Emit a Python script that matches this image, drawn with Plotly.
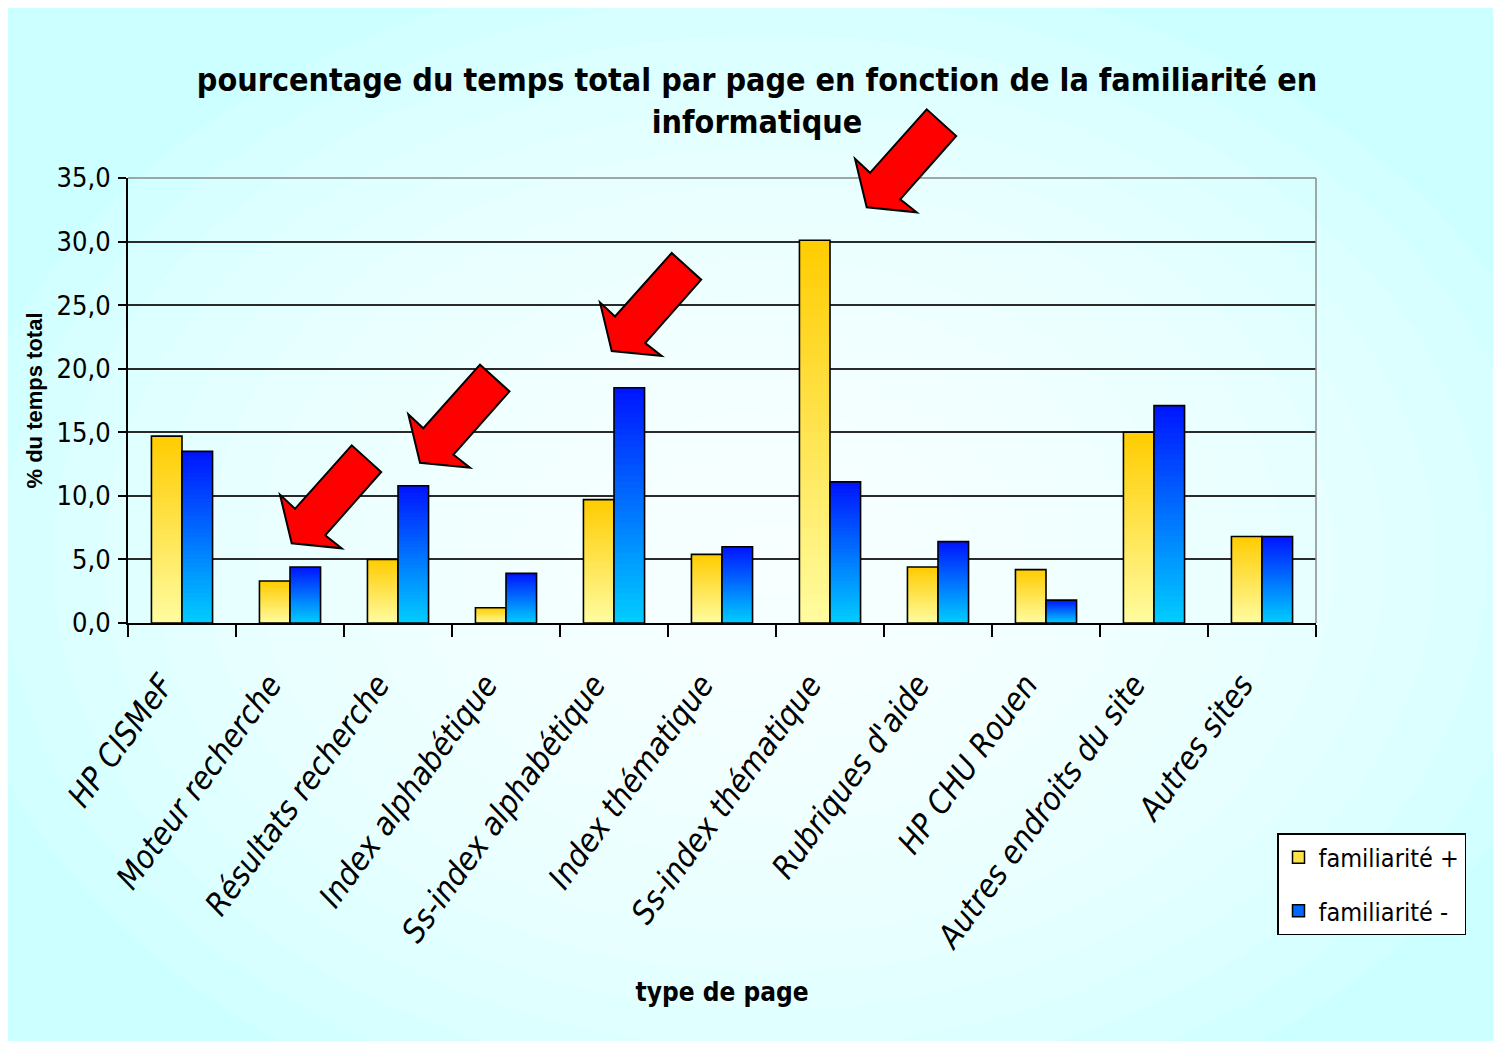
import plotly.graph_objects as go

# ---------------- data ----------------
categories = ["HP CISMeF", "Moteur recherche", "Résultats recherche", "Index alphabétique",
              "Ss-index alphabétique", "Index thématique", "Ss-index thématique",
              "Rubriques d'aide", "HP CHU Rouen", "Autres endroits du site", "Autres sites"]
fam_plus = [14.7, 3.3, 5.0, 1.2, 9.7, 5.4, 30.1, 4.4, 4.2, 15.0, 6.8]
fam_minus = [13.5, 4.4, 10.8, 3.9, 18.5, 6.0, 11.1, 6.4, 1.8, 17.1, 6.8]
series_names = ["familiarité +", "familiarité -"]
y_tick_values = [0, 5, 10, 15, 20, 25, 30, 35]

# ---------------- styling ----------------
OFF = 8                                   # page body margin of the html page
W, H = 1501 - OFF, 1041 - OFF
L, R, T, B = 128 - OFF, 1316 - OFF, 178 - OFF, 623 - OFF   # plot area (figure pixels)
COND = "DejaVu Sans Condensed, Liberation Sans Narrow, Arial Narrow, DejaVu Sans"
REG = "Liberation Sans, Arial"

grad = {
    "a": ((255, 252, 160), (255, 204, 0)),   # bottom -> top
    "b": ((0, 206, 255), (0, 20, 255)),
}
N_SEG = 40


def px2paper(px, py):
    """reference-image pixels -> paper coordinates"""
    px, py = px - OFF, py - OFF
    return (px - L) / (R - L), (B - py) / (B - T)


def mix(c0, c1, t):
    return "rgb(%d,%d,%d)" % tuple(round(a + (b - a) * t) for a, b in zip(c0, c1))


fig = go.Figure()

for key, name, vals in (("a", series_names[0], fam_plus), ("b", series_names[1], fam_minus)):
    c0, c1 = grad[key]
    for k in range(N_SEG):
        t = (k + 0.5) / N_SEG
        # each layer spans from its base to the bar top; upper layers cover lower ones
        fig.add_trace(go.Bar(
            x=categories, y=[v * (N_SEG - k) / N_SEG for v in vals],
            base=[v * k / N_SEG for v in vals],
            offsetgroup=key, legendgroup=key, showlegend=False, hoverinfo="skip",
            marker=dict(color=mix(c0, c1, t), line=dict(width=0)),
        ))
    # outline
    fig.add_trace(go.Bar(
        x=categories, y=vals, offsetgroup=key, legendgroup=key, showlegend=False, name=name,
        marker=dict(color="rgba(0,0,0,0)", line=dict(color="black", width=1.6)),
        hovertemplate="%{x}<br>" + name + " : %{y:.1f}<extra></extra>",
    ))
    # legend entry
    fig.add_trace(go.Bar(
        x=[categories[0]], y=[None], offsetgroup=key, legendgroup=key, name=name,
        marker=dict(color=mix(c0, c1, 0.55), line=dict(color="black", width=1.5)),
        hoverinfo="skip",
    ))

shapes = []
# radial gradient approximated with concentric ellipses
cx, cy = 770, 560
rx, ry = 820, 600
n_ell = 16
for i in range(n_ell):
    s = 1 - i / n_ell
    ax0, ay0 = px2paper(cx - rx * s, cy - ry * s)
    ax1, ay1 = px2paper(cx + rx * s, cy + ry * s)
    shapes.append(dict(type="circle", xref="paper", yref="paper", x0=ax0, y0=ay1, x1=ax1, y1=ay0,
                       fillcolor="white", opacity=0.13, line=dict(width=0), layer="below"))

# plot-area top and right borders
shapes.append(dict(type="line", xref="paper", yref="paper", x0=0, y0=1, x1=1, y1=1,
                   line=dict(color="#8a8a8a", width=1.5)))
shapes.append(dict(type="line", xref="paper", yref="paper", x0=1, y0=0, x1=1, y1=1,
                   line=dict(color="#8a8a8a", width=1.5)))

# red block arrows (callouts)
arrow_template = [(0, 0), (-11.7, -48.5), (3.3, -34.5), (60, -98), (89.5, -71.3), (33.5, -8), (50, 5)]
arrow_tips = [(291.7, 543.3), (420, 462.7), (611.7, 351), (866.7, 207.3)]
for tx, ty in arrow_tips:
    pts = [px2paper(tx + dx, ty + dy) for dx, dy in arrow_template]
    path = "M " + " L ".join("%.5f,%.5f" % p for p in pts) + " Z"
    shapes.append(dict(type="path", xref="paper", yref="paper", path=path,
                       fillcolor="#ff0000", line=dict(color="black", width=2), layer="above"))

lx, ly = px2paper(1277, 833)

fig.update_layout(
    width=W, height=H,
    margin=dict(l=L, r=W - R, t=T, b=H - B, autoexpand=False),
    paper_bgcolor="#ccffff", plot_bgcolor="rgba(0,0,0,0)",
    barmode="group", bargap=0.434, bargroupgap=0,
    separators=", ",
    font=dict(family=COND, color="black"),
    title=dict(
        text="pourcentage du temps total par page en fonction de la familiarité en<br>informatique",
        x=(757 - OFF) / W, xanchor="center", xref="container",
        y=1 - (91 - OFF) / H, yanchor="middle", yref="container",
        font=dict(family=COND, size=32, color="black", weight="bold"),
    ),
    xaxis=dict(
        type="category", tickson="boundaries", ticks="outside", ticklen=12, tickwidth=1.5,
        tickcolor="black", showline=True, linecolor="black", linewidth=2, showgrid=False,
        tickangle=-54, ticklabelstandoff=28, ticklabelshift=-20,
        tickfont=dict(family=COND, size=32, style="italic", color="black"),
        title=dict(text="type de page", standoff=28,
                   font=dict(family=COND, size=26, weight="bold", color="black")),
    ),
    yaxis=dict(
        range=[0, 35], tickvals=y_tick_values, tickformat=".1f",
        ticks="outside", ticklen=8, tickwidth=1.5, tickcolor="black",
        showline=True, linecolor="black", linewidth=2,
        showgrid=True, gridcolor="#2a2a2a", gridwidth=1.5, zeroline=False,
        ticklabelstandoff=2,
        tickfont=dict(family=COND, size=27, color="black"),
        title=dict(text="% du temps total", standoff=8,
                   font=dict(family=REG, size=22, weight="bold", color="black")),
    ),
    legend=dict(
        x=lx, y=ly, xanchor="left", yanchor="top",
        bgcolor="white", bordercolor="black", borderwidth=1.5,
        font=dict(family=COND, size=25, color="black"),
        tracegroupgap=18, itemwidth=30,
    ),
    shapes=shapes,
)

fig.write_html("out.html")
